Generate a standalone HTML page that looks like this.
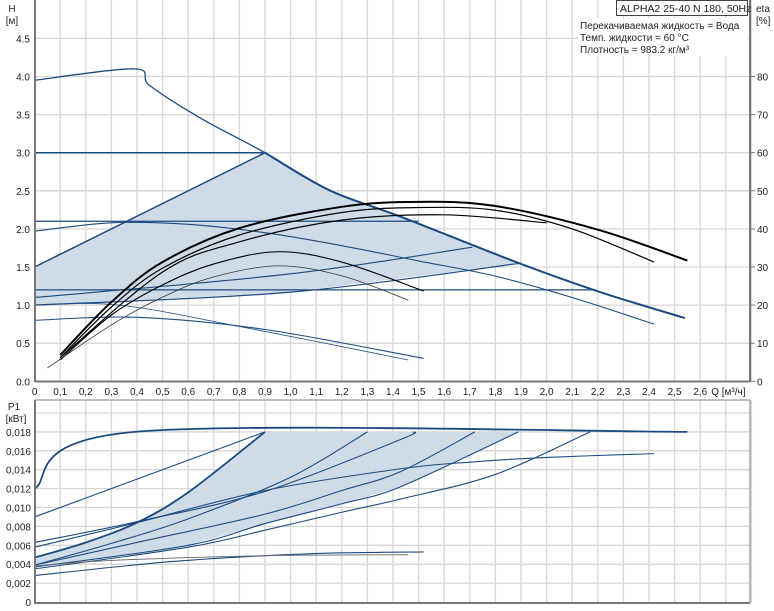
<!DOCTYPE html>
<html><head><meta charset="utf-8">
<style>
html,body{margin:0;padding:0;background:#fff;}
svg{display:block;font-family:"Liberation Sans",sans-serif;}
</style></head>
<body>
<svg id="chart" width="774" height="611" viewBox="0 0 774 611" xmlns="http://www.w3.org/2000/svg">
<g id="grid"></g>
<g id="fills"></g>
<g id="series"></g>
<g id="axes"></g>
<g id="labels" font-size="10" fill="#222"></g>
<g>
  <rect x="616.5" y="0.5" width="131" height="15" fill="#fff" stroke="#444"/>
  <text x="620" y="12" font-size="10.5" fill="#222">ALPHA2 25-40 N 180, 50Hz</text>
</g>
<g>
  <rect x="578" y="18" width="170" height="38" fill="#fff"/>
  <text x="580" y="29" font-size="10" fill="#222">Перекачиваемая жидкость = Вода</text>
  <text x="580" y="41" font-size="10" fill="#222">Темп. жидкости = 60 °C</text>
  <text x="580" y="53" font-size="10" fill="#222">Плотность = 983.2 кг/м³</text>
</g>
</svg>
<script>
// ---- data ----
const qTicks = ["0","0,1","0,2","0,3","0,4","0,5","0,6","0,7","0,8","0,9","1,0","1,1","1,2","1,3","1,4","1,5","1,6","1,7","1,8","1,9","2,0","2,1","2,2","2,3","2,4","2,5","2,6"];
const hTicks = ["0.0","0.5","1.0","1.5","2.0","2.5","3.0","3.5","4.0","4.5"];
const etaTicks = ["0","10","20","30","40","50","60","70","80"];
const pTicks = ["0","0,002","0,004","0,006","0,008","0,010","0,012","0,014","0,016","0,018"];

const hMaxQ = [0,0.39,0.45,0.65,0.9,1.15,1.43,1.9,2.21,2.54];
const hMaxH = [3.95,4.1,3.88,3.45,3.0,2.51,2.16,1.54,1.17,0.83];
const hUpperQ = [0,0.9];           const hUpperH = [1.5,3.0];
const hLowerQ = [0,1.0,1.9];       const hLowerH = [1.0,1.17,1.55];
const hConst3Q = [0,0.9];          const hConst3H = [3.0,3.0];
const hConst21Q = [0,1.5];         const hConst21H = [2.1,2.1];
const hConst12Q = [0,2.18];        const hConst12H = [1.2,1.2];
const hPpQ = [0,0.3,0.6,0.9,1.2,1.5,1.8,2.1,2.42]; const hPpH = [1.97,2.08,2.06,1.95,1.78,1.58,1.38,1.1,0.75];
const hPp2Q = [0,1.0,1.71];        const hPp2H = [1.1,1.41,1.76];
const hLowQ = [0,0.4,0.9,1.52];    const hLowH = [0.8,0.84,0.68,0.3];
const hLow2Q = [0,0.33,0.8,1.46];  const hLow2H = [1.0,1.0,0.72,0.28];

const eta1Q = [0.1,0.3,0.5,0.8,1.2,1.5,1.8,2.2,2.55]; const eta1 = [6.9,20.8,31.3,40.2,45.8,47.1,46,39.8,31.7];
const eta2Q = [0.1,0.3,0.5,0.8,1.2,1.5,1.8,2.1,2.42]; const eta2 = [6.2,19.5,29.7,38.4,44.3,45.6,44.9,40,31.3];
const eta3Q = [0.1,0.5,0.8,1.2,1.6,2.0];             const eta3 = [6.2,28.7,36.6,42.3,43.7,41.6];
const eta4Q = [0.1,0.3,0.5,0.7,0.95,1.2,1.52];       const eta4 = [5.6,17.4,25.3,30.8,34,31.3,23.7];
const eta5Q = [0.05,0.3,0.5,0.7,0.95,1.2,1.46];      const eta5 = [3.5,14.8,22.1,27.4,30.3,27.7,21.3];

const pTopQ = [0,0.39,2.55];        const pTop = [0.012,0.018,0.018];
const p2Q = [0,0.9];                const p2 = [0.009,0.018];
const p1Q = [0,0.2,0.4,0.6,0.9];    const p1 = [0.0047,0.0063,0.0084,0.0116,0.018];
const p3Q = [0,0.4,0.9,1.43,1.48];  const p3 = [0.0063,0.0085,0.0117,0.0172,0.018];
const p4Q = [0,0.4,0.9,1.43,1.7,2.0,2.42]; const p4 = [0.0058,0.0084,0.0118,0.0141,0.0148,0.0153,0.0157];
const p5Q = [0,0.3,0.6,1.0,1.3];    const p5 = [0.0039,0.0062,0.0088,0.0132,0.018];
const p6Q = [0,0.4,0.9,1.2,1.43,1.72]; const p6 = [0.0039,0.0063,0.0093,0.0118,0.0138,0.018];
const p7Q = [0,0.6,0.9,1.2,1.43,1.89]; const p7 = [0.0037,0.006,0.0083,0.0104,0.0122,0.018];
const p8Q = [0,0.6,0.9,1.2,1.43,1.8,2.17]; const p8 = [0.0035,0.0058,0.0076,0.0095,0.0109,0.0135,0.018];
const p9Q = [0,0.5,0.9,1.2,1.52];   const p9 = [0.0028,0.0042,0.0049,0.0052,0.0053];
const p10Q = [0,0.3,0.9,1.46];      const p10 = [0.0038,0.0044,0.0049,0.005];

// ---- axes ----
const X0=34.6, XS=256, L=35, R=750;
const x = q => X0 + q*XS;
const yH = h => 381.3 - h*76.2;
const yE = e => 381.3 - e*3.81;
const yP = p => 602 - p*9450;
const NS="http://www.w3.org/2000/svg";
function mk(tag, parent, attrs){const e=document.createElementNS(NS,tag);for(const k in attrs)e.setAttribute(k,attrs[k]);parent.appendChild(e);return e;}
function pathD(xs, ys){
  const pts = xs.map((v,i)=>[v,ys[i]]);
  if(pts.length<3) return "M"+pts.map(p=>p.join(",")).join("L");
  let d="M"+pts[0][0]+","+pts[0][1];
  for(let i=0;i<pts.length-1;i++){
    const p0=pts[Math.max(0,i-1)],p1=pts[i],p2=pts[i+1],p3=pts[Math.min(pts.length-1,i+2)];
    const c1=[p1[0]+(p2[0]-p0[0])/6,p1[1]+(p2[1]-p0[1])/6];
    const c2=[p2[0]-(p3[0]-p1[0])/6,p2[1]-(p3[1]-p1[1])/6];
    d+=" C"+c1.join(",")+" "+c2.join(",")+" "+p2.join(",");
  }
  return d;
}
const grid=document.getElementById('grid'), fills=document.getElementById('fills'),
      series=document.getElementById('series'), axes=document.getElementById('axes'),
      labels=document.getElementById('labels');

// grid
for(let i=1;i<=28;i++){
  const gx=x(i/10);
  const a=mk('line',grid,{x1:gx,y1:0,x2:gx,y2:381,stroke:'#d6d6d6','stroke-width':1.3});
  
  
  const b=mk('line',grid,{x1:gx,y1:400,x2:gx,y2:603,stroke:'#d6d6d6','stroke-width':1.3});
  
  
}
for(let i=1;i<=9;i++){
  const g=mk('line',grid,{x1:L,y1:yH(i*0.5),x2:R,y2:yH(i*0.5),stroke:'#d6d6d6','stroke-width':1.3});
  
  
}
for(let i=1;i<=10;i++){
  const g=mk('line',grid,{x1:L,y1:yP(i*0.002),x2:R,y2:yP(i*0.002),stroke:'#d6d6d6','stroke-width':1.3});
  
  
}

// fills
const topPoly = hUpperQ.map((q,i)=>[x(q),yH(hUpperH[i])])
  .concat(hMaxQ.map((q,i)=>[q,hMaxH[i]]).filter(p=>p[0]>=0.9&&p[0]<=1.9).map(p=>[x(p[0]),yH(p[1])]))
  .concat(hLowerQ.slice().reverse().map((q,i,arr)=>[x(q),yH(hLowerH[hLowerQ.length-1-i])]));
const f1=mk('polygon',fills,{points:topPoly.map(p=>p.join(",")).join(" "),fill:'#cfdbe7'});


const botPoly = p1Q.map((q,i)=>[x(q),yP(p1[i])]).concat([[x(1.89),yP(0.018)]])
  .concat(p7Q.slice().reverse().map((q,i)=>[x(q),yP(p7[p7Q.length-1-i])]));
const f2=mk('polygon',fills,{points:botPoly.map(p=>p.join(",")).join(" "),fill:'#cfdbe7'});



function curve(qs, vs, yf, name, color, w){
  const p=mk('path',series,{d:pathD(qs.map(x),vs.map(yf)),fill:'none',stroke:color,'stroke-width':w});
  
  
}
const B='#1c4a80';
// head curves
curve(hMaxQ,hMaxH,yH,'max-head-curve',B,1.3);
curve(hMaxQ.filter(q=>q>=0.9),hMaxH.filter((h,i)=>hMaxQ[i]>=0.9),yH,'max-head-curve-bold',B,2);
curve(hUpperQ,hUpperH,yH,'pp-upper-line',B,1.5);
curve(hLowerQ,hLowerH,yH,'pp-lower-line',B,1.2);
curve(hConst3Q,hConst3H,yH,'constant-pressure-3',B,1.5);
curve(hConst21Q,hConst21H,yH,'constant-pressure-2-1',B,1.3);
curve(hConst12Q,hConst12H,yH,'constant-pressure-1-2',B,1.3);
curve(hPpQ,hPpH,yH,'pp-curve-2',B,1.1);
curve(hPp2Q,hPp2H,yH,'pp-curve-1',B,1.1);
curve(hLowQ,hLowH,yH,'min-curve',B,1.1);
curve(hLow2Q,hLow2H,yH,'min-curve-2',B,0.8);
// efficiency curves
curve(eta1Q,eta1,yE,'eta-curve-1','#000',2);
curve(eta2Q,eta2,yE,'eta-curve-2','#000',1.2);
curve(eta3Q,eta3,yE,'eta-curve-3','#000',1.2);
curve(eta4Q,eta4,yE,'eta-curve-4','#000',1.1);
curve(eta5Q,eta5,yE,'eta-curve-5','#333',0.8);
// power curves
curve(pTopQ,pTop,yP,'power-max-line',B,1.8);
curve(p2Q,p2,yP,'power-curve-2',B,1.1);
curve(p1Q,p1,yP,'power-curve-1',B,1.8);
curve(p3Q,p3,yP,'power-curve-3',B,1.1);
curve(p4Q,p4,yP,'power-curve-4',B,1.1);
curve(p5Q,p5,yP,'power-curve-5',B,1.1);
curve(p6Q,p6,yP,'power-curve-6',B,1.1);
curve(p7Q,p7,yP,'power-curve-7',B,1.1);
curve(p8Q,p8,yP,'power-curve-8',B,1.1);
curve(p9Q,p9,yP,'power-curve-9',B,1.1);
curve(p10Q,p10,yP,'power-curve-10','#666',0.9);

// axes frames
function ln(x1,y1,x2,y2,name,c,w){const l=mk('line',axes,{x1,y1,x2,y2,stroke:c||'#777','stroke-width':w||2});
  
  }
ln(L,0,L,382,'left-axis-top');
ln(L,381.5,R,381.5,'x-axis-top');
ln(R,0,R,382,'right-axis-eta');
ln(L,400,L,604,'left-axis-bottom');
ln(L,603,R,603,'x-axis-bottom');
ln(R,400,R,604,'right-border-bottom','#999',1.3);
ln(L,400,R,400,'top-border-bottom','#999',1.3);

function txt(s,tx,ty,anchor,name){const t=mk('text',labels,{x:tx,y:ty,'text-anchor':anchor||'start'});t.textContent=s;
  
  }
qTicks.forEach((s,i)=>txt(s,x(i/10),395,'middle','x-tick-label'));
txt('Q [м³/ч]',x(2.6)+11,395,'start','x-axis-title');
hTicks.forEach((s,i)=>txt(s,30,yH(i*0.5)+4,'end','h-tick-label'));
txt('H',12,12,'middle','h-axis-title');
txt('[м]',12,24,'middle','h-axis-unit');
etaTicks.forEach((s,i)=>{txt(s,757,yE(i*10)+4,'start','eta-tick-label');
  ln(R,yE(i*10),R+5,yE(i*10),'eta-tick','#777',1);});
txt('eta',756,12,'start','eta-axis-title');
txt('[%]',756,24,'start','eta-axis-unit');
pTicks.forEach((s,i)=>txt(s,31,yP(i*0.002)+4,'end','p-tick-label'));
txt('P1',14,410,'middle','p-axis-title');
txt('[кВт]',16,422,'middle','p-axis-unit');
</script>
</body></html>
